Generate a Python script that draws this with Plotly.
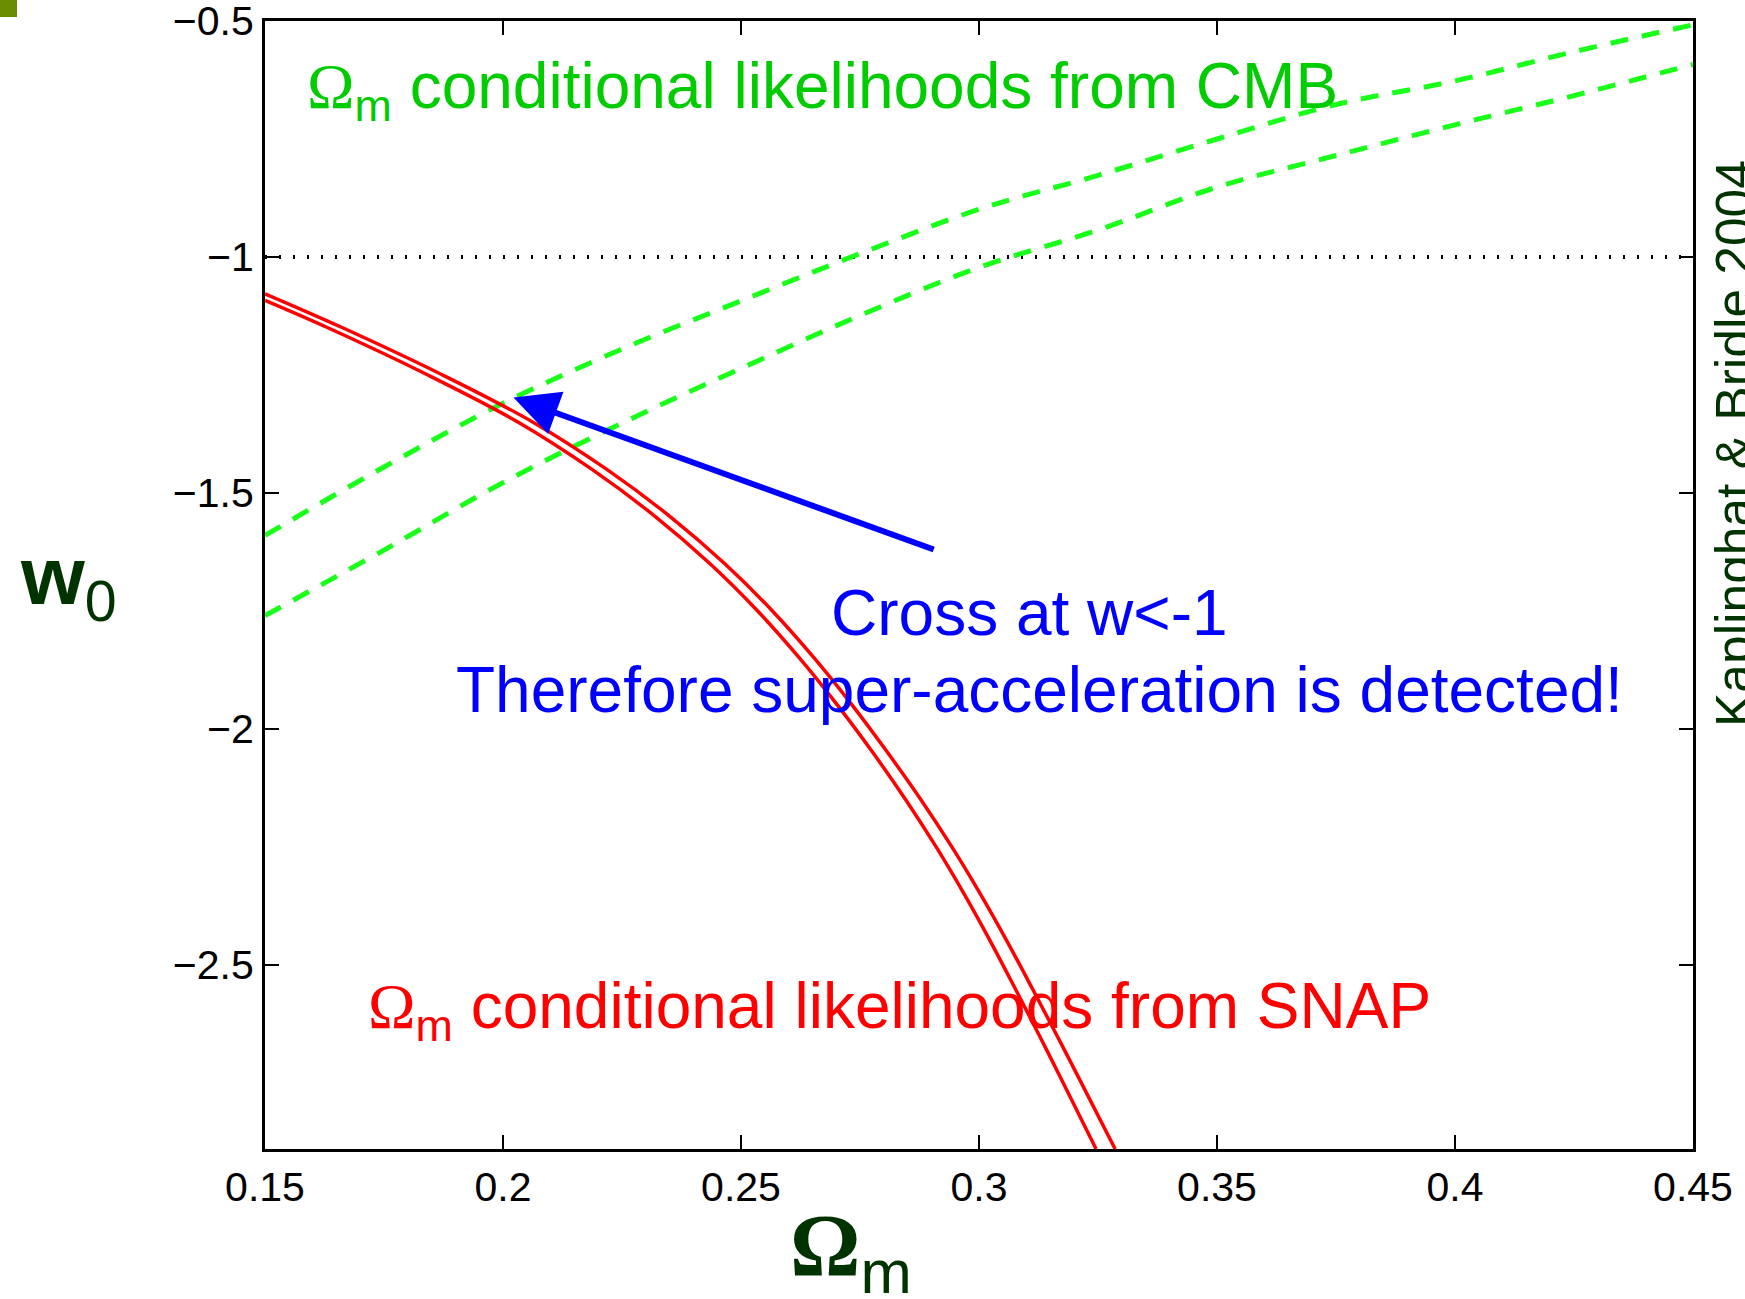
import plotly.graph_objects as go

# ---------------- data ----------------
omega_cmb = [0.15, 0.175, 0.2, 0.225, 0.25, 0.275, 0.3, 0.325, 0.35, 0.375, 0.4, 0.425, 0.45]
w_cmb_upper = [-1.59, -1.445, -1.31, -1.195, -1.093, -0.993, -0.899, -0.827, -0.750, -0.677, -0.627, -0.565, -0.508]
w_cmb_lower = [-1.76, -1.621, -1.478, -1.352, -1.236, -1.124, -1.022, -0.943, -0.852, -0.785, -0.720, -0.658, -0.592]

# SNAP band: left/lower edge and right/upper edge
w_snap_left = [-1.092, -1.15, -1.25, -1.35, -1.45, -1.55, -1.65, -1.75, -1.85, -1.95,
               -2.05, -2.15, -2.25, -2.35, -2.45, -2.55, -2.65, -2.75, -2.89]
omega_snap_left = [0.15, 0.1632, 0.1842, 0.2032, 0.2187, 0.2320, 0.2435, 0.2535, 0.2623, 0.2703,
                   0.2777, 0.2846, 0.2910, 0.2969, 0.3024, 0.3076, 0.3127, 0.3177, 0.3246]
w_snap_right = [-1.078, -1.15, -1.25, -1.35, -1.45, -1.55, -1.65, -1.75, -1.85, -1.95,
                -2.05, -2.15, -2.25, -2.35, -2.45, -2.55, -2.65, -2.75, -2.89]
omega_snap_right = [0.15, 0.1663, 0.1873, 0.2063, 0.2218, 0.2351, 0.2466, 0.2566, 0.2654, 0.2734,
                    0.2808, 0.2878, 0.2943, 0.3003, 0.3059, 0.3112, 0.3164, 0.3215, 0.3286]

omega_ref = [0.15, 0.45]
w_ref = [-1, -1]

arrow_head = (0.2022, -1.2977)
arrow_tail = (0.2908, -1.621)

x_ticks = [0.15, 0.2, 0.25, 0.3, 0.35, 0.4, 0.45]
x_ticklabels = ["0.15", "0.2", "0.25", "0.3", "0.35", "0.4", "0.45"]
y_ticks = [-2.5, -2, -1.5, -1, -0.5]
y_ticklabels = ["\u22122.5", "\u22122", "\u22121.5", "\u22121", "\u22120.5"]
x_range = [0.15, 0.45]
y_range = [-2.89, -0.5]

# ---------------- layout geometry ----------------
W, H = 1745, 1299
L, R, T, B = 265, 1693, 21, 1149


def px(x):
    return (x - L) / (R - L)


def py(y):
    return (B - y) / (B - T)


DARK = "#003300"
SANS = "Liberation Sans"

fig = go.Figure()

fig.add_trace(go.Scatter(x=omega_ref, y=w_ref, mode="lines",
                         line=dict(color="black", width=4, dash="2px,12px"),
                         showlegend=False, hoverinfo="skip"))
for wy in (w_cmb_upper, w_cmb_lower):
    fig.add_trace(go.Scatter(x=omega_cmb, y=wy, mode="lines", line_shape="spline",
                             line=dict(color="#1aff1a", width=5, dash="18px,14px"),
                             showlegend=False))
fig.add_trace(go.Scatter(x=omega_snap_left, y=w_snap_left, mode="lines", line_shape="spline",
                         line=dict(color="#ff0000", width=3.5), showlegend=False))
fig.add_trace(go.Scatter(x=omega_snap_right, y=w_snap_right, mode="lines", line_shape="spline",
                         line=dict(color="#ff0000", width=3.5), showlegend=False))

OMEGA = '<span style="font-family:Liberation Serif">\u03a9</span>'

annotations = [
    # arrow
    dict(x=arrow_head[0], y=arrow_head[1], ax=arrow_tail[0], ay=arrow_tail[1],
         xref="x", yref="y", axref="x", ayref="y", text="", showarrow=True,
         arrowhead=2, arrowsize=1.5, arrowwidth=6, arrowcolor="#0000ff", standoff=0),
    # green label
    dict(x=px(305), y=py(89.5), xref="paper", yref="paper", xanchor="left", yanchor="middle",
         text=OMEGA + "<sub>m</sub> conditional likelihoods from CMB", showarrow=False,
         font=dict(family=SANS, size=64, color="#00cc00")),
    # blue texts
    dict(x=px(1029), y=py(612.8), xref="paper", yref="paper", xanchor="center", yanchor="middle",
         text="Cross at w&lt;-1", showarrow=False,
         font=dict(family=SANS, size=64, color="#0000ff")),
    dict(x=px(1039), y=py(689.5), xref="paper", yref="paper", xanchor="center", yanchor="middle",
         text="Therefore super-acceleration is detected!", showarrow=False,
         font=dict(family=SANS, size=64, color="#0000ff")),
    # red label
    dict(x=px(365.5), y=py(1010), xref="paper", yref="paper", xanchor="left", yanchor="middle",
         text=OMEGA + "<sub>m</sub> conditional likelihoods from SNAP", showarrow=False,
         font=dict(family=SANS, size=64, color="#ff0000")),
    # axis titles
    dict(x=px(788), y=py(1251), xref="paper", yref="paper", xanchor="left", yanchor="middle",
         text='<span style="font-family:Liberation Serif"><b>\u03a9</b></span><sub>m</sub>',
         showarrow=False, font=dict(family=SANS, size=88, color=DARK)),
    dict(x=px(18), y=py(581), xref="paper", yref="paper", xanchor="left", yanchor="middle",
         text="<b>w</b><sub>0</sub>", showarrow=False,
         font=dict(family=SANS, size=82, color=DARK)),
    # credit (rotated, partly cut by page edge)
    dict(x=px(1734), y=py(443), xref="paper", yref="paper", xanchor="center", yanchor="middle",
         text="Kaplinghat &amp; Bridle 2004", textangle=-90, showarrow=False,
         font=dict(family=SANS, size=51.5, color=DARK)),
]

axis_common = dict(showgrid=False, zeroline=False, showline=True, linecolor="black", linewidth=3,
                   mirror="ticks", ticks="inside", ticklen=14, tickwidth=2, tickcolor="black",
                   automargin=False, ticklabeloverflow="allow",
                   tickfont=dict(family=SANS, size=41, color="black"))

fig.update_layout(
    width=W, height=H,
    margin=dict(l=L, r=W - R, t=T, b=H - B, pad=0, autoexpand=False),
    paper_bgcolor="white", plot_bgcolor="white",
    xaxis=dict(range=x_range, tickvals=x_ticks, ticktext=x_ticklabels,
               ticklabelstandoff=0, **axis_common),
    yaxis=dict(range=y_range, tickvals=y_ticks, ticktext=y_ticklabels,
               ticklabelstandoff=0, **axis_common),
    annotations=annotations,
    shapes=[dict(type="rect", xref="paper", yref="paper",
                 x0=px(0), x1=px(17), y0=py(17), y1=py(0),
                 fillcolor="#6a8c00", line=dict(width=0), layer="above")],
    showlegend=False,
)

fig.write_html("out.html")
